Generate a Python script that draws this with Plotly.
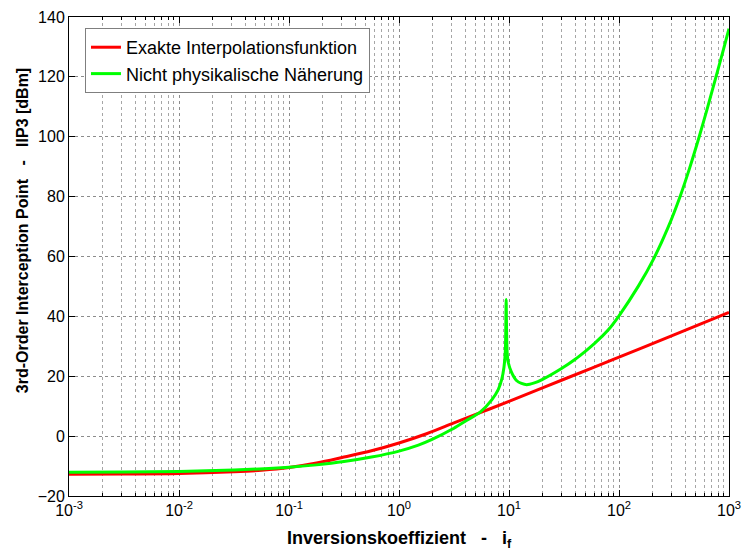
import plotly.graph_objects as go

# Inversion coefficient i_f and IIP3 in dBm for both models
red_if = [0.001, 0.00316, 0.01, 0.0316, 0.0562, 0.1, 0.178, 0.316, 0.562, 1.0, 1.78, 3.16,
          5.62, 10.0, 31.6, 100.0, 316.0, 1000.0]
red_iip3 = [-12.7, -12.65, -12.5, -11.9, -11.4, -10.5, -9.0, -7.0, -4.9, -2.3, 0.8, 4.4,
            8.0, 11.6, 19.0, 26.4, 33.8, 41.3]

green_if = [0.001, 0.00316, 0.01, 0.0316, 0.1, 0.178, 0.316, 0.562, 1.0, 1.5, 2.0, 3.0,
            4.0, 5.5, 7.0, 8.0, 8.6, 9.0, 9.25, 9.35, 9.42, 9.5, 9.62, 9.85, 10.5, 11.7,
            13.0, 14.5, 17.0, 20.0, 30.0, 40.0, 50.0, 60.0, 70.0, 80.0, 100.0, 150.0,
            207.0, 280.0, 362.0, 440.0, 535.0, 640.0, 756.0, 870.0, 1000.0]
green_iip3 = [-12.1, -12.0, -11.8, -11.3, -10.4, -9.6, -8.5, -7.0, -5.0, -3.0, -1.1, 2.2,
              5.0, 8.1, 12.2, 15.6, 19.0, 23.0, 28.0, 36.0, 45.6, 36.0, 28.0, 24.6, 21.5, 18.6,
              17.6, 17.2, 17.8, 18.9, 22.6, 25.7, 28.5, 31.0, 33.3, 35.5, 40.2, 50.1,
              59.3, 69.8, 80.4, 89.7, 99.9, 109.9, 119.6, 127.8, 136.1]

series_names = ["Exakte Interpolationsfunktion", "Nicht physikalische Näherung"]
decade_exponents = [-3, -2, -1, 0, 1, 2, 3]
y_ticks = [-20, 0, 20, 40, 60, 80, 100, 120, 140]

decades = [10.0 ** e for e in decade_exponents]
decade_text = ["10<sup>%d</sup>" % e for e in decade_exponents]
minor_vals = [m * 10.0 ** e for e in decade_exponents[:-1] for m in range(2, 10)]

fig = go.Figure()
fig.add_trace(go.Scatter(
    x=red_if, y=red_iip3, mode="lines", name=series_names[0],
    line=dict(color="#ff0000", width=3, shape="spline", smoothing=1.0),
))
fig.add_trace(go.Scatter(
    x=green_if, y=green_iip3, mode="lines", name=series_names[1],
    line=dict(color="#00ff00", width=3, shape="spline", smoothing=0.8),
))

nb = "\u00a0"
grid_major = "#8c8c8c"
grid_minor = "#a6a6a6"

fig.update_layout(
    width=743, height=554,
    margin=dict(l=69, r=14, t=17, b=58),
    paper_bgcolor="white", plot_bgcolor="white",
    font=dict(family="Liberation Sans, Arial, sans-serif", size=16, color="black"),
    showlegend=True,
    legend=dict(
        x=0.0242, y=0.977, xanchor="left", yanchor="top",
        bgcolor="white", bordercolor="#7f7f7f", borderwidth=1,
        font=dict(size=18), tracegroupgap=0, itemwidth=30,
    ),
    xaxis=dict(
        type="log", range=[-3, 3], automargin=False,
        tickmode="array", tickvals=decades, ticktext=decade_text,
        ticks="inside", ticklen=6, tickcolor="black",
        showline=True, linecolor="black", linewidth=1, mirror="ticks",
        showgrid=True, gridcolor=grid_major, griddash="dot", gridwidth=1,
        minor=dict(tickmode="array", tickvals=minor_vals, ticks="inside", ticklen=3,
                   tickcolor="black", showgrid=True, gridcolor=grid_minor,
                   griddash="dot", gridwidth=1),
        zeroline=False,
    ),
    yaxis=dict(
        range=[-20, 140], automargin=False, tickmode="array", tickvals=y_ticks,
        ticks="inside", ticklen=6, tickcolor="black",
        showline=True, linecolor="black", linewidth=1, mirror="ticks",
        showgrid=True, gridcolor=grid_major, griddash="dot", gridwidth=1,
        zeroline=False,
    ),
    annotations=[
        dict(text="<b>Inversionskoeffizient" + nb * 3 + "-" + nb * 3 + "i<sub>f</sub></b>",
             xref="paper", yref="paper", x=0.5, y=-0.062, xanchor="center", yanchor="top",
             showarrow=False, font=dict(size=18)),
        dict(text="<b>3rd-Order Interception Point" + nb * 3 + "-" + nb * 3 + "IIP3 [dBm]</b>",
             xref="paper", yref="paper", x=-0.0545, y=0.554, xanchor="right", yanchor="middle",
             textangle=-90, showarrow=False, font=dict(size=16)),
    ],
)

fig.write_html("out.html")
